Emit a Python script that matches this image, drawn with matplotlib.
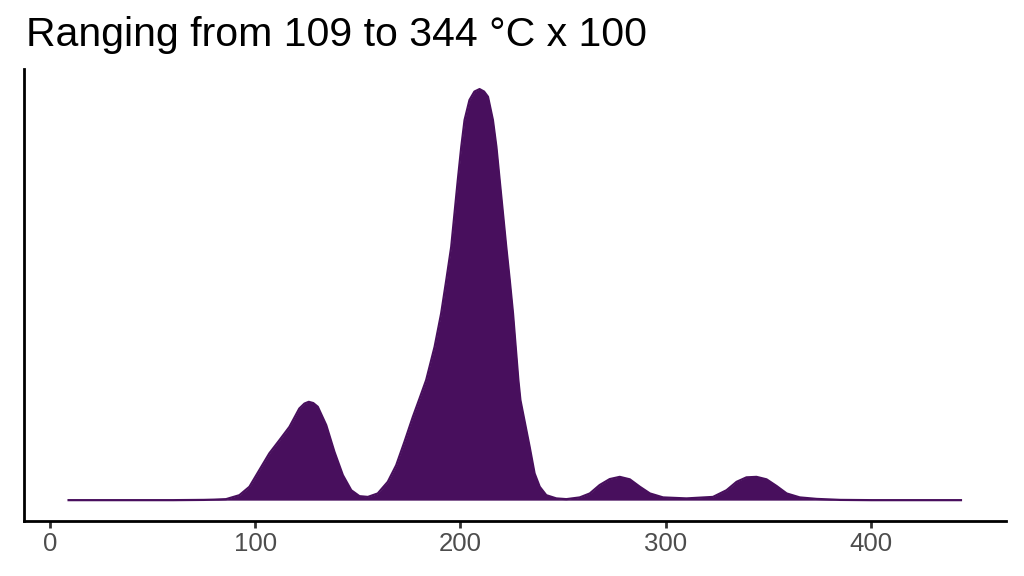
import matplotlib
matplotlib.use("Agg")
import matplotlib.pyplot as plt

# temperature (°C x 100 scale) and density (x1e-3)
temp = [9.1, 60, 75, 80, 85.8, 92.3, 97.2, 102.0, 106.9, 111.8, 116.7, 121.5,
        124, 126.1, 128.3, 130.5, 134.6, 138.6, 142.7, 146.8, 150.8, 154.9,
        159.7, 164.6, 168.7, 172.7, 176.8, 180.1, 183.3, 187.4, 190.6, 193.1,
        195.5, 197.1, 198.7, 200.4, 202.0, 204.4, 206.8, 209.3, 211.5, 213.4,
        215.8, 217.5, 219.1, 220.7, 222.3, 224.0, 225.6, 226.9, 228.2, 229.2,
        233.7, 236.1, 238.6, 241.8, 246.7, 251.6,
        258.1, 263, 267.8, 272.7, 277.6, 282.5, 287.4, 292.3, 298.7, 310.1,
        323, 329.6, 334.5, 339.3, 344.2, 349.1, 354, 358.9, 365.3, 373.5,
        385, 400, 443.8]
density = [0, 0, 0.01, 0.02, 0.04, 0.20, 0.54, 1.21, 1.89, 2.42, 2.96, 3.70,
           3.90, 3.97, 3.92, 3.77, 3.03, 1.95, 1.01, 0.40, 0.16, 0.13,
           0.27, 0.74, 1.41, 2.35, 3.36, 4.11, 4.85, 6.19, 7.54, 8.89,
           10.23, 11.58, 12.92, 14.27, 15.35, 16.16, 16.50, 16.60, 16.50, 16.29,
           15.35, 14.27, 12.92, 11.58, 10.23, 8.89, 7.54, 6.19, 4.85, 4.04,
           2.15, 1.08, 0.54, 0.20, 0.07, 0.04,
           0.11, 0.27, 0.61, 0.85, 0.94, 0.84, 0.54, 0.27, 0.11, 0.07,
           0.13, 0.40, 0.74, 0.92, 0.94, 0.84, 0.57, 0.27, 0.11, 0.05,
           0.01, 0, 0]
x_ticks = [0, 100, 200, 300, 400]
title = "Ranging from 109 to 344 °C x 100"

color = "#480F5D"
plt.rcParams["font.family"] = ["Liberation Sans", "DejaVu Sans"]

fig = plt.figure(figsize=(10.24, 5.76), dpi=100)
ax = fig.add_axes([0.0234, 0.096, 0.982 - 0.0234, 0.881 - 0.096])
ax.fill_between(temp, density, 0, color=color, linewidth=0)
ax.plot(temp, density, color=color, linewidth=1.6,
        solid_joinstyle="round")

xr = max(temp) - min(temp)
ax.set_xlim(min(temp) - 0.05 * xr, max(temp) + 0.05 * xr)
ymax = max(density)
ax.set_ylim(-0.05 * ymax, 1.05 * ymax)

ax.set_xticks(x_ticks)
ax.set_xticklabels([str(t) for t in x_ticks])
ax.set_yticks([])
ax.tick_params(axis="x", length=5, width=2, color="#333333",
               labelsize=18.5, labelcolor="#4D4D4D", pad=3)
for s in ["top", "right"]:
    ax.spines[s].set_visible(False)
for s in ["left", "bottom"]:
    ax.spines[s].set_linewidth(2)
    ax.spines[s].set_color("black")

fig.text(26 / 1024, 1 - 46 / 576, title, fontsize=29.5, color="black",
         ha="left", va="baseline")

fig.savefig("out.png", dpi=100)
